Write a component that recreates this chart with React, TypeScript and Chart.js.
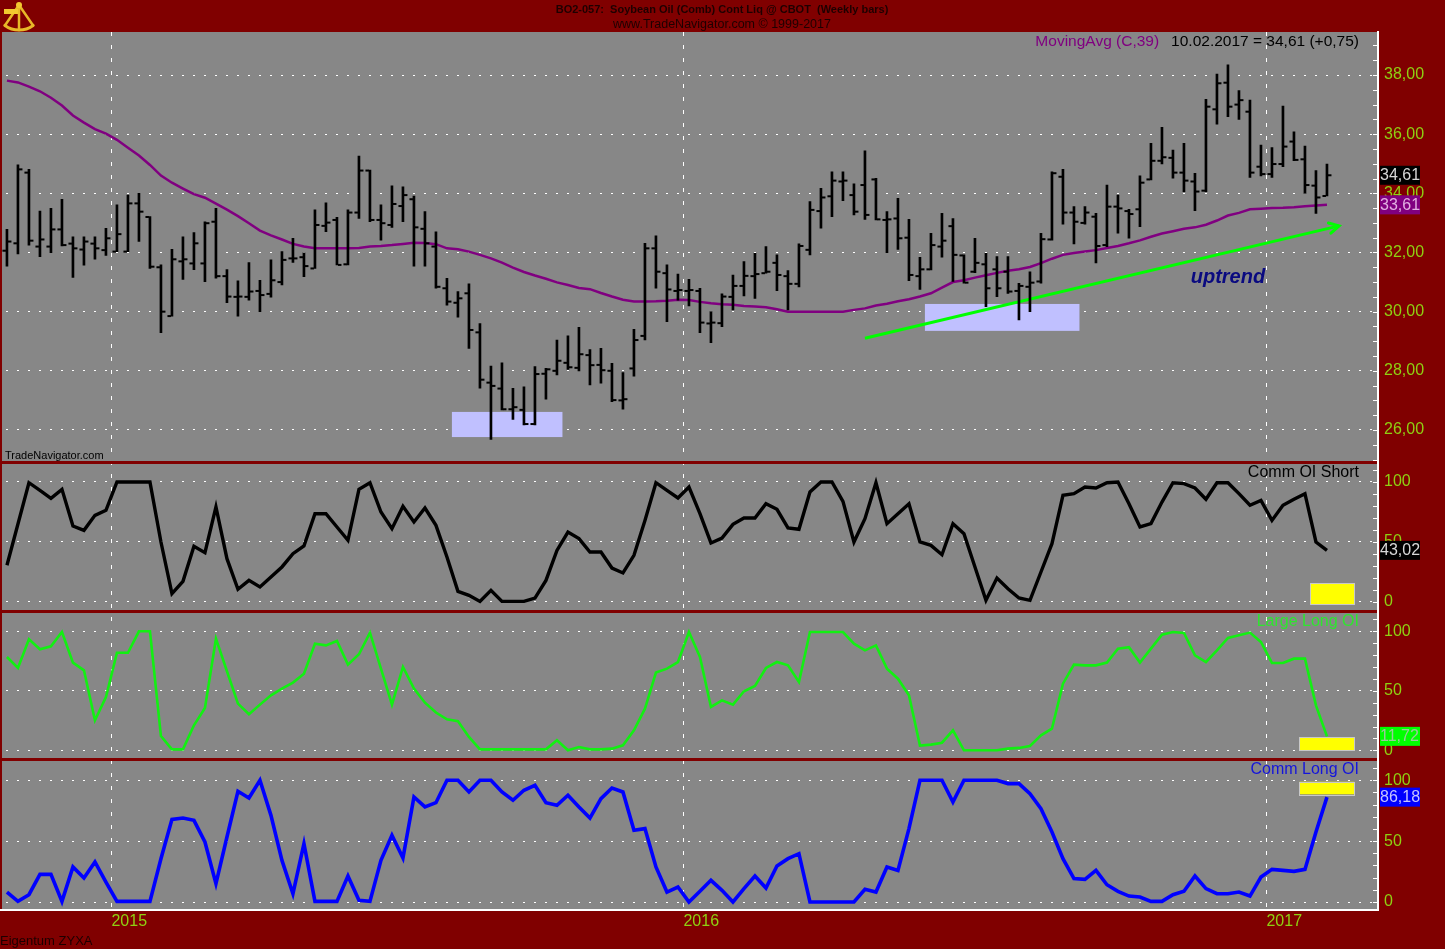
import React, { useEffect, useRef } from 'react';
import { Chart, registerables } from 'chart.js';

Chart.register(...registerables);

const FONT = "'Liberation Sans', Arial, Helvetica, sans-serif";

// Weekly bars: index 0 = 24.10.2014 ... index 120 = 10.02.2017
const lastDate = '10.02.2017';
const opens = [
  32.06, 32.31, 34.7, 32.2, 32.2, 32.78, 32.3, 32.1, 32.3, 32.08,
  32.03, 32.03, 33.66, 33.2, 31.5, 29.85, 31.7, 31.63, 31.63, 33.04,
  31.2, 30.5, 30.5, 30.7, 30.6, 31.0, 31.8, 31.84, 31.46, 32.9,
  33.1, 31.6, 33.35, 34.77, 33.1, 32.93, 33.57, 33.8, 32.8, 32.2,
  30.79, 30.3, 30.62, 29.3, 27.6, 27.4, 26.7, 26.68, 26.2, 27.9,
  28.0, 28.27, 28.1, 28.53, 28.2, 28.0, 27.0, 28.08, 29.18, 32.14,
  31.3, 30.7, 30.7, 30.7, 29.6, 29.61, 30.5, 30.87, 31.2, 31.3,
  31.65, 31.2, 30.94, 32.09, 33.4, 33.9, 34.4, 33.94, 34.28, 34.47,
  33.1, 33.15, 32.5, 31.2, 31.43, 32.2, 32.89, 31.9, 31.35, 31.6,
  31.43, 31.35, 30.7, 30.84, 31.02, 32.44, 34.56, 33.35, 33.0, 33.21,
  32.25, 33.55, 33.4, 33.46, 34.47, 35.1, 35.2, 34.7, 34.4, 34.09,
  36.84, 37.74, 37.0, 36.76, 34.9, 34.65, 34.99, 35.75, 35.15, 34.26,
  33.91,
];
const highs = [
  32.78, 34.96, 34.81, 33.4, 33.49, 33.8, 32.53, 32.53, 32.53, 32.82,
  33.61, 33.94, 34.0, 33.21, 31.58, 32.11, 32.53, 32.67, 33.04, 33.49,
  31.42, 31.04, 31.66, 31.06, 31.75, 32.03, 32.48, 31.99, 33.44, 33.68,
  33.19, 33.44, 35.26, 34.79, 33.61, 34.25, 34.22, 33.91, 33.38, 32.7,
  31.13, 30.68, 30.94, 29.6, 28.16, 28.27, 27.41, 27.46, 28.14, 28.08,
  29.04, 29.18, 29.47, 28.72, 28.76, 28.25, 27.94, 29.4, 32.31, 32.56,
  31.58, 31.27, 31.09, 30.79, 30.0, 30.6, 31.24, 31.69, 31.97, 32.2,
  31.92, 31.39, 32.29, 33.72, 34.17, 34.73, 34.73, 34.32, 35.44, 34.51,
  33.38, 33.83, 33.12, 31.84, 32.65, 33.32, 33.15, 31.92, 32.48, 31.97,
  31.86, 31.86, 30.96, 31.35, 32.65, 34.73, 34.81, 33.55, 33.55, 33.32,
  34.28, 33.94, 33.46, 34.59, 35.69, 36.23, 35.46, 35.69, 34.68, 37.18,
  38.03, 38.34, 37.47, 37.15, 35.63, 35.55, 36.95, 36.08, 35.6, 34.77,
  34.99,
];
const lows = [
  31.54, 31.95, 32.25, 31.86, 31.99, 32.22, 31.16, 31.57, 31.77, 31.9,
  32.03, 32.03, 32.37, 31.46, 29.29, 29.85, 31.09, 31.42, 31.01, 31.13,
  30.3, 29.85, 30.39, 30.0, 30.49, 30.9, 31.66, 31.18, 31.46, 32.7,
  31.58, 31.58, 33.15, 33.04, 32.42, 32.85, 33.04, 31.54, 31.54, 30.79,
  30.22, 29.81, 28.76, 27.41, 25.68, 26.68, 26.36, 26.17, 26.17, 27.04,
  27.86, 28.05, 28.0, 27.52, 27.58, 26.96, 26.7, 27.82, 29.04, 30.79,
  29.66, 30.39, 30.19, 29.29, 28.95, 29.49, 30.06, 30.53, 30.45, 31.3,
  30.71, 30.06, 30.84, 31.92, 32.82, 33.21, 33.75, 33.27, 33.12, 33.1,
  31.99, 32.1, 31.05, 30.75, 31.41, 31.84, 31.02, 30.96, 31.32, 30.17,
  30.51, 30.62, 29.72, 30.0, 30.96, 32.42, 32.96, 32.29, 32.96, 31.65,
  32.2, 32.65, 32.48, 32.87, 34.45, 34.99, 34.51, 34.06, 33.41, 34.06,
  36.34, 36.59, 36.5, 34.54, 34.59, 34.54, 34.9, 35.1, 34.0, 33.32,
  33.91,
];
const closes = [
  32.37, 34.81, 32.4, 32.44, 32.78, 32.25, 32.14, 32.37, 32.14, 32.48,
  32.62, 33.66, 33.38, 31.52, 30.0, 31.77, 31.77, 32.31, 32.99, 31.2,
  30.51, 30.51, 30.68, 30.56, 31.06, 31.75, 31.8, 31.54, 32.93, 33.01,
  31.58, 33.35, 34.77, 33.1, 32.99, 33.64, 33.94, 32.85, 32.31, 30.84,
  30.34, 30.45, 29.38, 27.7, 27.49, 26.7, 26.77, 26.2, 27.89, 28.05,
  28.34, 28.12, 28.56, 28.19, 28.02, 27.01, 27.04, 29.04, 32.14, 31.35,
  30.75, 30.73, 30.73, 29.63, 29.63, 30.51, 30.87, 31.21, 31.27, 31.35,
  31.24, 30.94, 32.22, 33.44, 33.86, 34.43, 34.43, 33.38, 33.27, 33.12,
  33.12, 32.48, 31.24, 31.43, 32.25, 32.4, 31.92, 30.98, 31.65, 30.79,
  30.79, 30.68, 30.87, 30.98, 32.45, 34.68, 33.35, 33.04, 33.35, 32.22,
  33.55, 33.49, 33.3, 34.36, 35.1, 35.22, 34.7, 34.43, 34.06, 36.93,
  37.72, 36.93, 37.15, 34.7, 34.65, 34.99, 35.58, 35.13, 34.28, 33.86,
  34.61,
];
const movingAvg = [
  37.81, 37.75, 37.61, 37.45, 37.23, 36.97, 36.63, 36.39, 36.17, 36.02,
  35.81, 35.54, 35.28, 34.96, 34.6, 34.36, 34.16, 33.97, 33.85, 33.65,
  33.45, 33.23, 32.99, 32.74, 32.58, 32.44, 32.29, 32.2, 32.14, 32.14,
  32.14, 32.14, 32.15, 32.2, 32.22, 32.25, 32.29, 32.33, 32.32, 32.28,
  32.14, 32.11, 32.03, 31.92, 31.8, 31.66, 31.49, 31.34, 31.22, 31.11,
  30.99, 30.9, 30.8, 30.76, 30.63, 30.51, 30.4, 30.34, 30.34, 30.35,
  30.37, 30.4, 30.39, 30.33, 30.28, 30.25, 30.23, 30.19, 30.17, 30.15,
  30.08, 30.0, 30.0, 30.0, 30.0, 30.0, 30.0, 30.06, 30.11, 30.21,
  30.27, 30.35, 30.42, 30.51, 30.62, 30.81, 31.0, 31.06, 31.15, 31.23,
  31.31, 31.38, 31.43, 31.51, 31.64, 31.79, 31.92, 31.98, 32.03, 32.08,
  32.15, 32.22, 32.31, 32.41, 32.53, 32.64, 32.72, 32.8, 32.85, 32.94,
  33.08, 33.25, 33.34, 33.46, 33.48, 33.5, 33.51, 33.53, 33.56, 33.59,
  33.61,
];
const commOIShort = [
  30.6, 65, 99.4, 93, 86.4, 93.9, 63.3, 59.7, 72.2, 76.4,
  100, 100, 100, 100, 50, 6.9, 17.2, 46.4, 41.1, 79.2,
  36.1, 10.6, 18, 12.5, 20.8, 29.2, 40.3, 46.7, 73.6, 73.6,
  62.5, 51.4, 93.9, 99.4, 75, 61.1, 79.7, 66.7, 78.3, 63.9,
  37.5, 8.9, 5.6, 0.5, 9.7, 0.5, 0.5, 0.5, 3.3, 18,
  43, 58.3, 52.8, 41.7, 41.7, 28.3, 24.2, 38.9, 68, 99.4,
  93, 86.7, 95.8, 73.6, 49.2, 53.3, 64.7, 70, 70, 81.9,
  77.2, 61.7, 60.6, 91.7, 100, 100, 83.9, 50, 69.4, 99.4,
  65.3, 73.6, 81.9, 50, 47.2, 39.4, 65.3, 56.9, 29.2, 1.4,
  20, 11.1, 3.3, 1.4, 25, 48.6, 88.9, 90.3, 95.8, 95,
  99.4, 100, 81.9, 62.5, 65.3, 83.3, 99.4, 98.6, 95, 85.6,
  99.4, 99.4, 90.3, 80.6, 84.7, 68, 80.6, 85.6, 90.3, 50,
  43.02,
];
const largeLongOI = [
  78.4, 69.2, 93.3, 84.9, 87.4, 99.4, 73.7, 67.2, 25.2, 44.8,
  82, 82, 100, 100, 12, 0.8, 0.8, 21, 35.6, 93.8,
  66.4, 39.2, 30.3, 38.4, 46.2, 51.8, 56.9, 64.4, 89.6, 88.2,
  91.9, 72, 80.7, 98.9, 68.6, 38.4, 70, 51.8, 40, 31.7,
  26, 24.4, 11.2, 0.8, 0.8, 0.8, 0.8, 0.8, 0.8, 0.8,
  8.4, 0, 2.8, 0.8, 0.8, 1.4, 4.2, 16.8, 35, 65.3,
  68.6, 74.2, 99.4, 78.4, 36.4, 42, 38.4, 49.6, 54, 69.2,
  74.2, 71.4, 57.4, 99.4, 99.4, 99.4, 99.4, 89.6, 84, 88.2,
  68.6, 60.2, 46.2, 4, 4.8, 6.4, 16.8, 0, 0, 0,
  0, 1.4, 2, 3.6, 12.6, 18.2, 56, 72, 71.4, 71.4,
  73.7, 85.4, 86.6, 73.7, 85.4, 97.2, 99.4, 98.6, 79.8, 74.2,
  84, 94.4, 96.6, 98.9, 91, 73.4, 73.4, 77, 77, 37.8,
  11.72,
];
const commLongOI = [
  8.2, 0.5, 6, 22.7, 22.7, 0.5, 28.8, 19.7, 32.9, 16.4,
  0.5, 0.5, 0.5, 0.5, 35.6, 67.9, 69, 67.1, 49.3, 15.1,
  53.4, 91, 85.5, 100, 71.2, 34.2, 6.8, 47.9, 0.5, 0.5,
  0.5, 21.4, 1.4, 0.5, 34.2, 54.8, 36.2, 86.3, 78.1, 81.6,
  100, 100, 90.4, 100, 100, 90.4, 83.6, 91.8, 95.9, 81.6,
  79.5, 87.7, 78.1, 69, 84.9, 93.7, 90.4, 58.9, 60.3, 28.8,
  8.2, 12.3, 0, 8.8, 17.8, 9.6, 0, 11, 21.4, 11.5,
  29.6, 35.6, 39.7, 0, 0, 0, 0, 0, 10.4, 8.2,
  28.8, 26, 60.3, 100, 100, 100, 82.2, 100, 100, 100,
  100, 97.3, 97.3, 89, 76.7, 57.5, 35.6, 19.2, 18.6, 26,
  14.2, 8.8, 4.9, 4.1, 0.5, 0.5, 6, 8.8, 21.4, 11,
  6.8, 6.8, 8.2, 4.9, 20.5, 26.8, 26, 25.2, 26.8, 57.5,
  86.18,
];

const yearTickPositions = [9.5, 61.5, 114.5];
const yearTickLabels = ['2015', '2016', '2017'];
const priceTicks = [26, 28, 30, 32, 34, 36, 38];
const oscTicks = [0, 50, 100];

// annotations in data coordinates
const highlightBoxes = [
  { x0: 40.45, x1: 50.5, y0: 25.76, y1: 26.61 },
  { x0: 83.45, x1: 97.5, y0: 29.35, y1: 30.26 },
];
const trendLine = [
  { x: 78, y: 29.1 },
  { x: 121.1, y: 32.9 },
];
const trendLabel = { x: 111, y: 31.14, text: 'uptrend' };
const yellowBoxes = [
  { axis: 'yShort', x0: 118.5, x1: 122.5, y0: -1.9, y1: 15.6 },
  { axis: 'yLarge', x0: 117.5, x1: 122.5, y0: 0.25, y1: 10.9 },
  { axis: 'yComm', x0: 117.5, x1: 122.5, y0: 88.5, y1: 98.8 },
];

const MAROON = '#800000';
const PLOT_BG = '#878787';
const AXIS_TXT = '#8fd012';

const fmt2 = (v: number) => v.toFixed(2).replace('.', ',');
const last = (a: number[]) => a[a.length - 1];

function yAxis(stackWeight: number, min: number, max: number, ticks: number[], decimals: boolean) {
  return {
    type: 'linear',
    position: 'right',
    stack: 'panes',
    stackWeight,
    min,
    max,
    bounds: 'data',
    beginAtZero: false,
    grid: { color: '#ffffff', lineWidth: 1, drawTicks: false },
    border: { display: true, color: '#ffffff', width: 2, dash: [2, 9], dashOffset: 7 },
    ticks: {
      color: AXIS_TXT,
      font: { family: FONT, size: 16 },
      padding: 6,
      autoSkip: false,
      callback: (v: number) => (decimals ? fmt2(v) : String(v)),
    },
    afterBuildTicks: (s: any) => {
      s.ticks = ticks.map((v) => ({ value: v }));
    },
    afterFit: (s: any) => {
      s.width = 67;
    },
  };
}

const decorPlugin = {
  id: 'tnDecor',
  beforeDraw(chart: any) {
    const { ctx, chartArea: a } = chart;
    ctx.save();
    ctx.fillStyle = MAROON;
    ctx.fillRect(0, 0, chart.width, chart.height);
    ctx.fillStyle = PLOT_BG;
    ctx.fillRect(a.left, a.top, a.right - a.left, a.bottom - a.top);
    ctx.restore();
  },
  beforeDatasetsDraw(chart: any) {
    const { ctx } = chart;
    const xs = chart.scales.x;
    const yp = chart.scales.yPrice;
    ctx.save();
    ctx.fillStyle = '#c0c0ff';
    for (const b of highlightBoxes) {
      const x0 = xs.getPixelForValue(b.x0);
      const x1 = xs.getPixelForValue(b.x1);
      const y0 = yp.getPixelForValue(b.y1);
      const y1 = yp.getPixelForValue(b.y0);
      ctx.fillRect(x0, y0, x1 - x0, y1 - y0);
    }
    ctx.restore();
  },
  afterDatasetsDraw(chart: any) {
    const { ctx, chartArea: a } = chart;
    const xs = chart.scales.x;
    const yp = chart.scales.yPrice;
    ctx.save();

    // open / close ticks
    ctx.fillStyle = '#000000';
    for (let i = 0; i < closes.length; i++) {
      const x = xs.getPixelForValue(i);
      const yo = yp.getPixelForValue(opens[i]);
      const yc = yp.getPixelForValue(closes[i]);
      ctx.fillRect(x - 4.5, yo - 1, 3.5, 2);
      ctx.fillRect(x + 1, yc - 1, 3.5, 2);
    }

    // arrow head of trend line
    const p0x = xs.getPixelForValue(trendLine[0].x);
    const p0y = yp.getPixelForValue(trendLine[0].y);
    const p1x = xs.getPixelForValue(trendLine[1].x);
    const p1y = yp.getPixelForValue(trendLine[1].y);
    const ang = Math.atan2(p1y - p0y, p1x - p0x);
    ctx.strokeStyle = '#00ff00';
    ctx.lineWidth = 3;
    ctx.lineCap = 'round';
    ctx.beginPath();
    ctx.moveTo(p1x - 11 * Math.cos(ang - 0.5), p1y - 11 * Math.sin(ang - 0.5));
    ctx.lineTo(p1x, p1y);
    ctx.lineTo(p1x - 11 * Math.cos(ang + 0.5), p1y - 11 * Math.sin(ang + 0.5));
    ctx.stroke();

    // uptrend label
    ctx.fillStyle = '#0a0a80';
    ctx.font = `italic bold 20px ${FONT}`;
    ctx.textAlign = 'center';
    ctx.textBaseline = 'middle';
    ctx.fillText(trendLabel.text, xs.getPixelForValue(trendLabel.x), yp.getPixelForValue(trendLabel.y));

    // pane separators
    ctx.fillStyle = MAROON;
    for (const id of ['yPrice', 'yShort', 'yLarge']) {
      const b = chart.scales[id].bottom;
      ctx.fillRect(0, b - 1.5, a.right - 1, 3);
    }

    // bottom axis line extended to the left edge
    ctx.fillStyle = '#ffffff';
    ctx.fillRect(0, a.bottom - 1, a.left + 1, 2);

    // yellow markers
    ctx.fillStyle = '#ffff00';
    ctx.strokeStyle = '#c8c8c8';
    ctx.lineWidth = 1;
    for (const b of yellowBoxes) {
      const ys = chart.scales[b.axis];
      const x0 = xs.getPixelForValue(b.x0);
      const x1 = xs.getPixelForValue(b.x1);
      const y0 = ys.getPixelForValue(b.y1);
      const y1 = ys.getPixelForValue(b.y0);
      ctx.fillRect(x0, y0, x1 - x0, y1 - y0);
      ctx.strokeRect(Math.round(x0) + 0.5, Math.round(y0) + 0.5, Math.round(x1 - x0), Math.round(y1 - y0));
    }

    // minor tick marks along the right axis
    ctx.fillStyle = '#ffffff';
    for (let v = 25; v <= 39.01; v += 0.5) {
      const y = yp.getPixelForValue(v);
      ctx.fillRect(a.right - 5, Math.round(y), 4, 1);
    }
    for (const id of ['yShort', 'yLarge', 'yComm']) {
      const ys = chart.scales[id];
      for (let v = 0; v <= 110; v += 10) {
        const y = ys.getPixelForValue(v);
        ctx.fillRect(a.right - 5, Math.round(y), 4, 1);
      }
    }

    // last value boxes on the axis
    const boxes = [
      { s: yp, v: last(closes), bg: '#000000', fg: '#d8d8d8' },
      { s: yp, v: last(movingAvg), bg: '#800080', fg: '#e2b0e2' },
      { s: chart.scales.yShort, v: last(commOIShort), bg: '#000000', fg: '#d8d8d8' },
      { s: chart.scales.yLarge, v: last(largeLongOI), bg: '#00ff00', fg: '#9cc89c' },
      { s: chart.scales.yComm, v: last(commLongOI), bg: '#0000ff', fg: '#c4c4ff' },
    ];
    ctx.font = `16px ${FONT}`;
    ctx.textAlign = 'left';
    ctx.textBaseline = 'middle';
    for (const b of boxes) {
      const y = b.s.getPixelForValue(b.v);
      ctx.fillStyle = b.bg;
      ctx.fillRect(a.right + 2, y - 9.5, 40, 19);
      ctx.fillStyle = b.fg;
      ctx.fillText(fmt2(b.v), a.right + 2, y + 0.5);
    }

    // pane titles
    ctx.textAlign = 'right';
    ctx.font = `16px ${FONT}`;
    const titles = [
      { id: 'yShort', t: 'Comm OI Short', c: '#000000' },
      { id: 'yLarge', t: 'Large Long OI', c: '#2ee62e' },
      { id: 'yComm', t: 'Comm Long OI', c: '#1414dc' },
    ];
    for (const t of titles) {
      ctx.fillStyle = t.c;
      ctx.fillText(t.t, a.right - 19, chart.scales[t.id].top + 10.5);
    }

    // legend of the price pane
    ctx.font = `15.5px ${FONT}`;
    ctx.textAlign = 'right';
    ctx.fillStyle = '#000000';
    const chg = last(closes) - closes[closes.length - 2];
    const valTxt = `${lastDate} = ${fmt2(last(closes))} (${chg >= 0 ? '+' : ''}${fmt2(chg)})`;
    ctx.fillText(valTxt, a.right - 19, a.top + 9.5);
    const w = ctx.measureText(valTxt).width;
    ctx.fillStyle = '#800080';
    ctx.fillText('MovingAvg (C,39)', a.right - 19 - w - 12, a.top + 9.5);

    // header
    ctx.textAlign = 'center';
    ctx.fillStyle = '#1e0000';
    ctx.font = `bold 11px ${FONT}`;
    ctx.fillText('BO2-057:  Soybean Oil (Comb) Cont Liq @ CBOT  (Weekly bars)', 722, 9.5);
    ctx.font = `12.5px ${FONT}`;
    ctx.fillText('www.TradeNavigator.com \u00A9 1999-2017', 722, 24.5);

    // footers
    ctx.textAlign = 'left';
    ctx.fillStyle = '#000000';
    ctx.font = `11px ${FONT}`;
    ctx.fillText('TradeNavigator.com', 5, chart.scales.yPrice.bottom - 7);
    ctx.fillStyle = '#1e0000';
    ctx.font = `13px ${FONT}`;
    ctx.fillText('Eigentum ZYXA', 0, 941.5);

    // logo (sextant)
    ctx.strokeStyle = '#e8b828';
    ctx.fillStyle = '#f2c830';
    ctx.lineWidth = 3;
    ctx.beginPath();
    ctx.arc(19, 6, 24, Math.PI * 0.3, Math.PI * 0.7);
    ctx.stroke();
    ctx.lineWidth = 2.5;
    ctx.beginPath();
    ctx.moveTo(19, 5);
    ctx.lineTo(19 + 24 * Math.cos(Math.PI * 0.3), 6 + 24 * Math.sin(Math.PI * 0.3));
    ctx.moveTo(19, 5);
    ctx.lineTo(19 + 24 * Math.cos(Math.PI * 0.7), 6 + 24 * Math.sin(Math.PI * 0.7));
    ctx.moveTo(19, 4);
    ctx.lineTo(19, 30);
    ctx.stroke();
    ctx.fillRect(4, 9, 14, 5);
    ctx.beginPath();
    ctx.arc(19, 5, 3, 0, Math.PI * 2);
    ctx.fill();

    ctx.restore();
  },
};

export default function App() {
  const ref = useRef<HTMLCanvasElement | null>(null);

  useEffect(() => {
    const canvas = ref.current;
    if (!canvas) return;
    const idx = (arr: number[]) => arr.map((v, i) => ({ x: i, y: v }));
    const chart = new Chart(canvas, {
      type: 'line',
      data: {
        datasets: [
          {
            type: 'bar',
            label: 'Range',
            data: highs.map((h, i) => ({ x: i, y: [lows[i], h] })) as any,
            backgroundColor: '#000000',
            borderWidth: 0,
            barThickness: 2,
            xAxisID: 'x',
            yAxisID: 'yPrice',
          },
          {
            type: 'line',
            label: 'MovingAvg',
            data: idx(movingAvg),
            borderColor: '#800080',
            borderWidth: 2.5,
            pointRadius: 0,
            tension: 0,
            xAxisID: 'x',
            yAxisID: 'yPrice',
          },
          {
            type: 'line',
            label: 'Trend',
            data: trendLine,
            borderColor: '#00ff00',
            borderWidth: 3,
            pointRadius: 0,
            xAxisID: 'x',
            yAxisID: 'yPrice',
          },
          {
            type: 'line',
            label: 'Comm OI Short',
            data: idx(commOIShort),
            borderColor: '#000000',
            borderWidth: 3.4,
            pointRadius: 0,
            tension: 0,
            xAxisID: 'x',
            yAxisID: 'yShort',
          },
          {
            type: 'line',
            label: 'Large Long OI',
            data: idx(largeLongOI),
            borderColor: '#12f012',
            borderWidth: 2.6,
            pointRadius: 0,
            tension: 0,
            xAxisID: 'x',
            yAxisID: 'yLarge',
          },
          {
            type: 'line',
            label: 'Comm Long OI',
            data: idx(commLongOI),
            borderColor: '#0000ff',
            borderWidth: 3.6,
            pointRadius: 0,
            tension: 0,
            xAxisID: 'x',
            yAxisID: 'yComm',
          },
        ],
      },
      options: {
        animation: false,
        responsive: false,
        maintainAspectRatio: false,
        devicePixelRatio: 1,
        events: [],
        layout: { padding: { left: 2, top: 32, right: 0, bottom: 0 } },
        plugins: {
          legend: { display: false },
          tooltip: { enabled: false },
          title: { display: false },
        },
        scales: {
          x: {
            type: 'linear',
            position: 'bottom',
            min: -0.45,
            max: 124.64,
            bounds: 'data',
            offset: false,
            grid: { offset: false, color: '#ffffff', lineWidth: 1, drawTicks: false },
            border: { display: true, color: '#ffffff', width: 2, dash: [4, 9] },
            ticks: {
              align: 'start',
              color: AXIS_TXT,
              font: { family: FONT, size: 16 },
              padding: 2,
              maxRotation: 0,
              autoSkip: false,
              callback: (_v: any, i: number) => yearTickLabels[i] ?? '',
            },
            afterBuildTicks: (s: any) => {
              s.ticks = yearTickPositions.map((v) => ({ value: v }));
            },
            afterFit: (s: any) => {
              s.height = 39;
            },
          } as any,
          yPrice: yAxis(430.5, 24.9, 39.454, priceTicks, true) as any,
          yShort: yAxis(149, -7.92, 116.25, oscTicks, false) as any,
          yLarge: yAxis(148, -7.73, 116.64, oscTicks, false) as any,
          yComm: yAxis(150.5, -6.57, 117.09, oscTicks, false) as any,
        },
      },
      plugins: [decorPlugin],
    } as any);
    return () => chart.destroy();
  }, []);

  return (
    <div style={{ position: 'fixed', left: 0, top: 0, width: 1445, height: 949, background: MAROON }}>
      <canvas ref={ref} width={1445} height={949} style={{ display: 'block', width: 1445, height: 949 }} />
    </div>
  );
}
